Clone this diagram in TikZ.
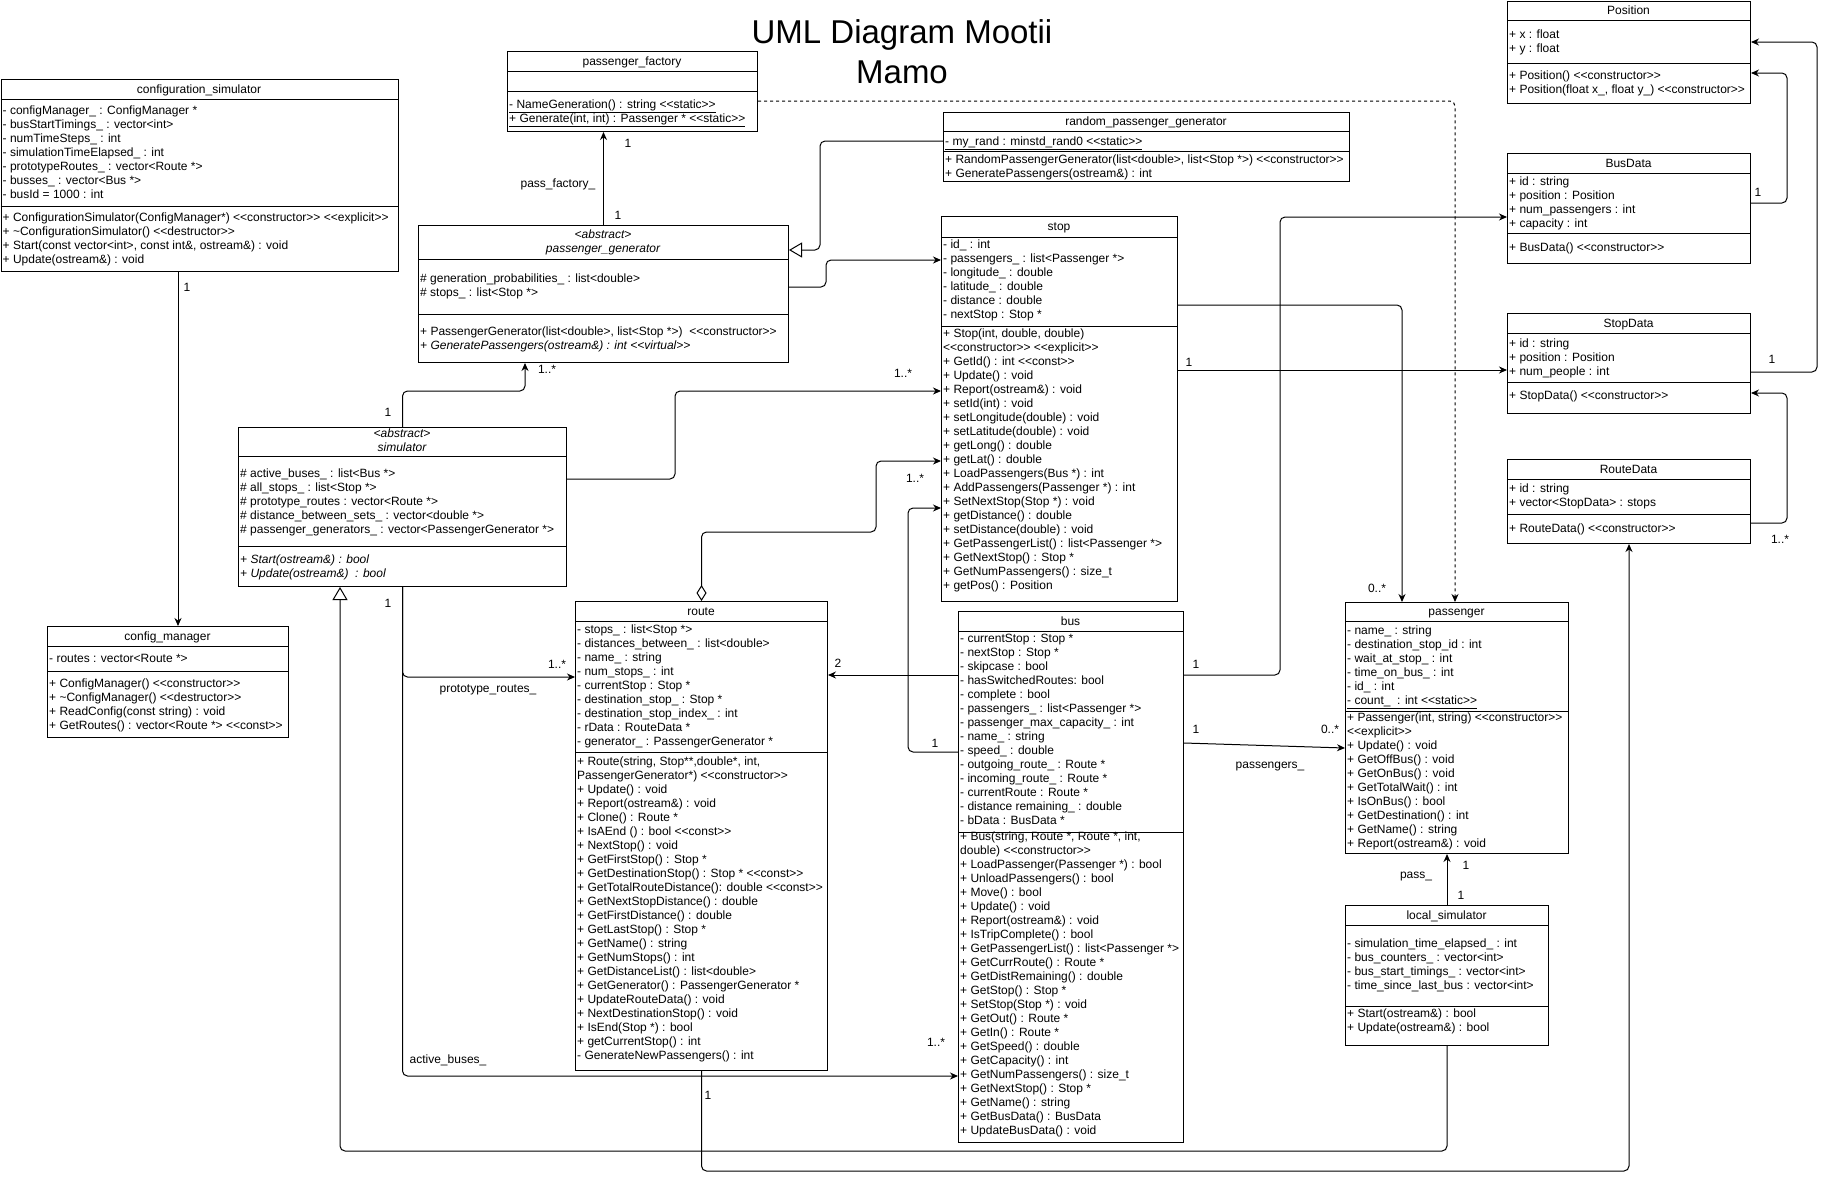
\documentclass[tikz,border=0pt]{standalone}
\usepackage{fontspec}
\newfontfamily\umlfamily{Liberation Sans}
\usetikzlibrary{arrows.meta}
\newcommand{\umlfont}{\umlfamily\fontsize{12}{14}\selectfont}
\tikzset{x=1pt, y=-1pt,
    classbox/.style={
        draw, line width=1pt,
        anchor=north west,
        inner sep=0pt},
    divider/.style={line width=1pt},
    hdr/.style={
        font=\umlfont,
        inner sep=0pt,
        text height=8.6pt, text depth=0pt},
    rows/.style={
        font=\umlfont,
        anchor=north west,
        inner sep=0pt,
        align=left,
        yshift=5.8pt},
    assoc/.style={
        draw, line width=1pt,
        rounded corners=5pt,
        -{Stealth[length=8pt,width=7pt]}},
    inherit/.style={
        draw, line width=1pt,
        rounded corners=5pt,
        -{Triangle[open,length=13pt,width=15pt]}},
    aggr/.style={
        draw, line width=1pt,
        rounded corners=5pt,
        {Diamond[open,length=16pt,width=10pt]}-{Stealth[length=8pt,width=7pt]}},
    depend/.style={assoc, dash pattern=on 3pt off 3pt}}

\begin{document}
\begin{tikzpicture}
\useasboundingbox[fill=white] (0,0) rectangle (1826,1181);

\node[font=\umlfamily\fontsize{33}{40}\selectfont, align=center] (title) at (902,52) {UML Diagram Mootii\\Mamo};

% configuration_simulator
\node[classbox, minimum width=397pt, minimum height=192pt] (confsim) at (0.5,79) {};
\draw[divider] (confsim.west |- 0,99) -- (confsim.east |- 0,99);
\draw[divider] (confsim.west |- 0,206) -- (confsim.east |- 0,206);
\node[hdr] (confsim-name) at (199,89) {configuration\_simulator};
\node[rows] (confsim-attr) at (2.5,110) {\strut- configManager\_ : ConfigManager *\\
    - busStartTimings\_ : vector<int>\\
    - numTimeSteps\_ : int\\
    - simulationTimeElapsed\_ : int\\
    - prototypeRoutes\_ : vector<Route *>\\
    - busses\_ : vector<Bus *>\\
    - busId = 1000 : int};
\node[rows] (confsim-meth) at (2.5,217) {\strut+ ConfigurationSimulator(ConfigManager*) <<constructor>> <<explicit>>\\
    + \textasciitilde ConfigurationSimulator() <<destructor>>\\
    + Start(const vector<int>, const int\&, ostream\&) : void\\
    + Update(ostream\&) : void};

% passenger_factory
\node[classbox, minimum width=250pt, minimum height=80pt] (pfac) at (507,51) {};
\draw[divider] (pfac.west |- 0,71) -- (pfac.east |- 0,71);
\draw[divider] (pfac.west |- 0,91) -- (pfac.east |- 0,91);
\node[hdr] (pfac-name) at (632,61) {passenger\_factory};
\node[rows] (pfac-meth) at (509,104) {\strut\underline{- NameGeneration() : string <<static>>}\\
    \underline{+ Generate(int, int) : Passenger * <<static>>}};

% random_passenger_generator
\node[classbox, minimum width=406pt, minimum height=69pt] (rpgen) at (943,112) {};
\draw[divider] (rpgen.west |- 0,131) -- (rpgen.east |- 0,131);
\draw[divider] (rpgen.west |- 0,151) -- (rpgen.east |- 0,151);
\node[hdr] (rpgen-name) at (1146,121) {random\_passenger\_generator};
\node[rows] (rpgen-attr) at (945,141) {\strut\underline{- my\_rand : minstd\_rand0 <<static>>}};
\node[rows] (rpgen-meth) at (945,159) {\strut+ RandomPassengerGenerator(list<double>, list<Stop *>) <<constructor>>\\
    + GeneratePassengers(ostream\&) : int};

% passenger_generator
\node[classbox, minimum width=370pt, minimum height=137pt] (pgen) at (418,225) {};
\draw[divider] (pgen.west |- 0,259) -- (pgen.east |- 0,259);
\draw[divider] (pgen.west |- 0,314) -- (pgen.east |- 0,314);
\node[rows, anchor=north, align=center, font=\umlfont\itshape] (pgen-name) at (603,234) {\strut<abstract>\\passenger\_generator};
\node[rows] (pgen-attr) at (420,278) {\strut\# generation\_probabilities\_ : list<double>\\
    \# stops\_ : list<Stop *>};
\node[rows] (pgen-meth) at (420,331) {\strut+ PassengerGenerator(list<double>, list<Stop *>) \ <<constructor>>\\
    {\itshape + GeneratePassengers(ostream\&) : int <<virtual>>}};

% stop
\node[classbox, minimum width=236pt, minimum height=385pt] (stop) at (941,216) {};
\draw[divider] (stop.west |- 0,237) -- (stop.east |- 0,237);
\draw[divider] (stop.west |- 0,326) -- (stop.east |- 0,326);
\node[hdr] (stop-name) at (1059,226) {stop};
\node[rows] (stop-attr) at (943,244) {\strut- id\_ : int\\
    - passengers\_ : list<Passenger *>\\
    - longitude\_ : double\\
    - latitude\_ : double\\
    - distance : double\\
    - nextStop : Stop *};
\node[rows] (stop-meth) at (943,333) {\strut+ Stop(int, double, double)\\
    <<constructor>> <<explicit>>\\
    + GetId() : int <<const>>\\
    + Update() : void\\
    + Report(ostream\&) : void\\
    + setId(int) : void\\
    + setLongitude(double) : void\\
    + setLatitude(double) : void\\
    + getLong() : double\\
    + getLat() : double\\
    + LoadPassengers(Bus *) : int\\
    + AddPassengers(Passenger *) : int\\
    + SetNextStop(Stop *) : void\\
    + getDistance() : double\\
    + setDistance(double) : void\\
    + GetPassengerList() : list<Passenger *>\\
    + GetNextStop() : Stop *\\
    + GetNumPassengers() : size\_t\\
    + getPos() : Position};

% Position
\node[classbox, minimum width=243pt, minimum height=102.5pt] (pos) at (1507,0.5) {};
\draw[divider] (pos.west |- 0,20) -- (pos.east |- 0,20);
\draw[divider] (pos.west |- 0,63) -- (pos.east |- 0,63);
\node[hdr] (pos-name) at (1628.5,10) {Position};
\node[rows] (pos-attr) at (1509,34) {\strut+ x : float\\+ y : float};
\node[rows] (pos-meth) at (1509,75) {\strut+ Position() <<constructor>>\\
    + Position(float x\_, float y\_) <<constructor>>};

% BusData
\node[classbox, minimum width=243pt, minimum height=110pt] (busdata) at (1507,153) {};
\draw[divider] (busdata.west |- 0,173) -- (busdata.east |- 0,173);
\draw[divider] (busdata.west |- 0,233) -- (busdata.east |- 0,233);
\node[hdr] (busdata-name) at (1628.5,163) {BusData};
\node[rows] (busdata-attr) at (1509,181) {\strut+ id : string\\
    + position : Position\\
    + num\_passengers : int\\
    + capacity : int};
\node[rows] (busdata-meth) at (1509,247) {\strut+ BusData() <<constructor>>};

% StopData
\node[classbox, minimum width=243pt, minimum height=100pt] (stopdata) at (1507,313) {};
\draw[divider] (stopdata.west |- 0,333) -- (stopdata.east |- 0,333);
\draw[divider] (stopdata.west |- 0,382) -- (stopdata.east |- 0,382);
\node[hdr] (stopdata-name) at (1628.5,323) {StopData};
\node[rows] (stopdata-attr) at (1509,343) {\strut+ id : string\\
    + position : Position\\
    + num\_people : int};
\node[rows] (stopdata-meth) at (1509,395) {\strut+ StopData() <<constructor>>};

% RouteData
\node[classbox, minimum width=243pt, minimum height=84pt] (routedata) at (1507,459) {};
\draw[divider] (routedata.west |- 0,479) -- (routedata.east |- 0,479);
\draw[divider] (routedata.west |- 0,514) -- (routedata.east |- 0,514);
\node[hdr] (routedata-name) at (1628.5,469) {RouteData};
\node[rows] (routedata-attr) at (1509,488) {\strut+ id : string\\
    + vector<StopData> : stops};
\node[rows] (routedata-meth) at (1509,528) {\strut+ RouteData() <<constructor>>};

% simulator
\node[classbox, minimum width=328pt, minimum height=159pt] (sim) at (238,427) {};
\draw[divider] (sim.west |- 0,456) -- (sim.east |- 0,456);
\draw[divider] (sim.west |- 0,546) -- (sim.east |- 0,546);
\node[rows, anchor=north, align=center, font=\umlfont\itshape] (sim-name) at (402,433) {\strut<abstract>\\simulator};
\node[rows] (sim-attr) at (240,473) {\strut\# active\_buses\_ : list<Bus *>\\
    \# all\_stops\_ : list<Stop *>\\
    \# prototype\_routes : vector<Route *>\\
    \# distance\_between\_sets\_ : vector<double *>\\
    \# passenger\_generators\_ : vector<PassengerGenerator *>};
\node[rows, font=\umlfont\itshape] (sim-meth) at (240,559) {\strut+ Start(ostream\&) : bool\\
    + Update(ostream\&) \ : bool};

% config_manager
\node[classbox, minimum width=241pt, minimum height=111pt] (confman) at (47,626) {};
\draw[divider] (confman.west |- 0,646) -- (confman.east |- 0,646);
\draw[divider] (confman.west |- 0,671) -- (confman.east |- 0,671);
\node[hdr] (confman-name) at (167.5,636) {config\_manager};
\node[rows] (confman-attr) at (49,658) {\strut- routes : vector<Route *>};
\node[rows] (confman-meth) at (49,683) {\strut+ ConfigManager() <<constructor>>\\
    + \textasciitilde ConfigManager() <<destructor>>\\
    + ReadConfig(const string) : void\\
    + GetRoutes() : vector<Route *> <<const>>};

% route
\node[classbox, minimum width=252pt, minimum height=469pt] (route) at (575,601) {};
\draw[divider] (route.west |- 0,621) -- (route.east |- 0,621);
\draw[divider] (route.west |- 0,752) -- (route.east |- 0,752);
\node[hdr] (route-name) at (701,611) {route};
\node[rows] (route-attr) at (577,629) {\strut- stops\_ : list<Stop *>\\
    - distances\_between\_ : list<double>\\
    - name\_ : string\\
    - num\_stops\_ : int\\
    - currentStop : Stop *\\
    - destination\_stop\_ : Stop *\\
    - destination\_stop\_index\_ : int\\
    - rData : RouteData *\\
    - generator\_ : PassengerGenerator *};
\node[rows] (route-meth) at (577,761) {\strut+ Route(string, Stop**,double*, int,\\
    PassengerGenerator*) <<constructor>>\\
    + Update() : void\\
    + Report(ostream\&) : void\\
    + Clone() : Route *\\
    + IsAEnd () : bool <<const>>\\
    + NextStop() : void\\
    + GetFirstStop() : Stop *\\
    + GetDestinationStop() : Stop * <<const>>\\
    + GetTotalRouteDistance(): double <<const>>\\
    + GetNextStopDistance() : double\\
    + GetFirstDistance() : double\\
    + GetLastStop() : Stop *\\
    + GetName() : string\\
    + GetNumStops() : int\\
    + GetDistanceList() : list<double>\\
    + GetGenerator() : PassengerGenerator *\\
    + UpdateRouteData() : void\\
    + NextDestinationStop() : void\\
    + IsEnd(Stop *) : bool\\
    + getCurrentStop() : int\\
    - GenerateNewPassengers() : int};

% bus
\node[classbox, minimum width=225pt, minimum height=531pt] (bus) at (958,611) {};
\draw[divider] (bus.west |- 0,631) -- (bus.east |- 0,631);
\draw[divider] (bus.west |- 0,832) -- (bus.east |- 0,832);
\node[hdr] (bus-name) at (1070.5,621) {bus};
\node[rows] (bus-attr) at (960,638) {\strut- currentStop : Stop *\\
    - nextStop : Stop *\\
    - skipcase : bool\\
    - hasSwitchedRoutes: bool\\
    - complete : bool\\
    - passengers\_ : list<Passenger *>\\
    - passenger\_max\_capacity\_ : int\\
    - name\_ : string\\
    - speed\_ : double\\
    - outgoing\_route\_ : Route *\\
    - incoming\_route\_ : Route *\\
    - currentRoute : Route *\\
    - distance remaining\_ : double\\
    - bData : BusData *};
\node[rows] (bus-meth) at (960,836.5) {\strut+ Bus(string, Route *, Route *, int,\\
    double) <<constructor>>\\
    + LoadPassenger(Passenger *) : bool\\
    + UnloadPassengers() : bool\\
    + Move() : bool\\
    + Update() : void\\
    + Report(ostream\&) : void\\
    + IsTripComplete() : bool\\
    + GetPassengerList() : list<Passenger *>\\
    + GetCurrRoute() : Route *\\
    + GetDistRemaining() : double\\
    + GetStop() : Stop *\\
    + SetStop(Stop *) : void\\
    + GetOut() : Route *\\
    + GetIn() : Route *\\
    + GetSpeed() : double\\
    + GetCapacity() : int\\
    + GetNumPassengers() : size\_t\\
    + GetNextStop() : Stop *\\
    + GetName() : string\\
    + GetBusData() : BusData\\
    + UpdateBusData() : void};

% passenger
\node[classbox, minimum width=223pt, minimum height=251pt] (pass) at (1345,602) {};
\draw[divider] (pass.west |- 0,621) -- (pass.east |- 0,621);
\draw[divider] (pass.west |- 0,711) -- (pass.east |- 0,711);
\node[hdr] (pass-name) at (1456.5,611.5) {passenger};
\node[rows] (pass-attr) at (1347,630) {\strut- name\_ : string\\
    - destination\_stop\_id : int\\
    - wait\_at\_stop\_ : int\\
    - time\_on\_bus\_ : int\\
    - id\_ : int\\
    \underline{- count\_ \ : int <<static>>}};
\node[rows] (pass-meth) at (1347,717) {\strut+ Passenger(int, string) <<constructor>>\\
    <<explicit>>\\
    + Update() : void\\
    + GetOffBus() : void\\
    + GetOnBus() : void\\
    + GetTotalWait() : int\\
    + IsOnBus() : bool\\
    + GetDestination() : int\\
    + GetName() : string\\
    + Report(ostream\&) : void};

% local_simulator
\node[classbox, minimum width=203pt, minimum height=140pt] (locsim) at (1345,905) {};
\draw[divider] (locsim.west |- 0,925) -- (locsim.east |- 0,925);
\draw[divider] (locsim.west |- 0,1006) -- (locsim.east |- 0,1006);
\node[hdr] (locsim-name) at (1446.5,915) {local\_simulator};
\node[rows] (locsim-attr) at (1347,943) {\strut- simulation\_time\_elapsed\_ : int\\
    - bus\_counters\_ : vector<int>\\
    - bus\_start\_timings\_ : vector<int>\\
    - time\_since\_last\_bus : vector<int>};
\node[rows] (locsim-meth) at (1347,1013) {\strut+ Start(ostream\&) : bool\\
    + Update(ostream\&) : bool};

% connectors
\draw[assoc] (178,0 |- confsim.south) -- (178,0 |- confman.north);
\draw[assoc] (pgen.north) -- (pgen.north |- pfac.south);
\draw[inherit] (rpgen.west |- 0,141) -- (820,141) -- (820,250) -- (pgen.east |- 0,250);
\draw[assoc] (pgen.east |- 0,287) -- (826,287) -- (826,260) -- (stop.west |- 0,260);
\draw[assoc] (sim.north) -- (sim.north |- 0,391) -- (525,391) -- (525,0 |- pgen.south);
\draw[assoc] (sim.east |- 0,479) -- (675,479) -- (675,391) -- (stop.west |- 0,391);
\draw[aggr] (route.north) -- (route.north |- 0,532) -- (876,532) -- (876,461) -- (stop.west |- 0,461);
\draw[assoc] (bus.west |- 0,752) -- (908,752) -- (908,508) -- (stop.west |- 0,508);
\draw[assoc] (bus.west |- 0,675) -- (route.east |- 0,675);
\draw[assoc] (sim.south) -- (sim.south |- 0,677) -- (route.west |- 0,677);
\draw[assoc] (sim.south) -- (sim.south |- 0,1076) -- (bus.west |- 0,1076);
\draw[inherit] (locsim.south) -- (locsim.south |- 0,1151) -- (340,1151) -- (340,0 |- sim.south);
\draw[assoc] (route.south) -- (route.south |- 0,1171) -- (routedata.south |- 0,1171) -- (routedata.south);
\draw[assoc] (stop.east |- 0,305) -- (1402,305) -- (1402,0 |- pass.north);
\draw[depend] (pfac.east |- 0,101) -- (1455,101) -- (1455,0 |- pass.north);
\draw[assoc] (bus.east |- 0,675) -- (1280,675) -- (1280,217) -- (busdata.west |- 0,217);
\draw[assoc] (bus.east |- 0,743) -- (pass.west |- 0,748);
\draw[assoc] (locsim.north) -- (locsim.north |- pass.south);
\draw[assoc] (stop.east |- 0,370) -- (stopdata.west |- 0,370);
\draw[assoc] (busdata.east |- 0,203) -- (1787,203) -- (1787,73) -- (pos.east |- 0,73);
\draw[assoc] (stopdata.east |- 0,372) -- (1817,372) -- (1817,42) -- (pos.east |- 0,42);
\draw[assoc] (routedata.east |- 0,523) -- (1787,523) -- (1787,393) -- (stopdata.east |- 0,393);

% labels
\node[hdr] (l-confsim) at (187,287) {1};
\node[hdr] (l-pfac) at (628,143) {1};
\node[hdr] (l-passfac) at (558,183) {pass\_factory\_};
\node[hdr] (l-pgen) at (618,215) {1};
\node[hdr] (l-pgenm) at (547,369) {1..*};
\node[hdr] (l-simtop) at (388,412) {1};
\node[hdr] (l-stopsim) at (903,373) {1..*};
\node[hdr] (l-stoproute) at (915,478) {1..*};
\node[hdr] (l-simbot) at (388,603) {1};
\node[hdr] (l-routem) at (557,664) {1..*};
\node[hdr] (l-proto) at (488,688) {prototype\_routes\_};
\node[hdr] (l-two) at (838,663) {2};
\node[hdr] (l-busstop) at (935,743) {1};
\node[hdr] (l-active) at (448,1059) {active\_buses\_};
\node[hdr] (l-busm) at (936,1042) {1..*};
\node[hdr] (l-routebot) at (708,1095) {1};
\node[hdr] (l-busdata) at (1196,664) {1};
\node[hdr] (l-buspass) at (1196,729) {1};
\node[hdr] (l-passm) at (1330,729) {0..*};
\node[hdr] (l-passengers) at (1270,764) {passengers\_};
\node[hdr] (l-stoppass) at (1377,588) {0..*};
\node[hdr] (l-stopdata) at (1189,362) {1};
\node[hdr] (l-bdpos) at (1758,192) {1};
\node[hdr] (l-sdpos) at (1772,359) {1};
\node[hdr] (l-rdsd) at (1780,539) {1..*};
\node[hdr] (l-pass) at (1416,874) {pass\_};
\node[hdr] (l-passtop) at (1466,865) {1};
\node[hdr] (l-locsim) at (1461,895) {1};
\end{tikzpicture}
\end{document}
